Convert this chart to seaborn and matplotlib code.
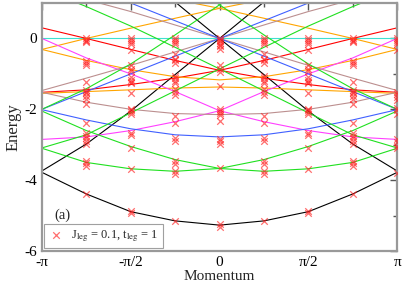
import numpy as np
import pandas as pd
import matplotlib
matplotlib.use("Agg")
import matplotlib.pyplot as plt
import seaborn as sns

# momentum grid (multiples of pi/4)
k_vals = [-np.pi, -0.75*np.pi, -0.5*np.pi, -0.25*np.pi, 0.0, 0.25*np.pi, 0.5*np.pi, 0.75*np.pi, np.pi]

# line energies read at the nine momenta
cyan_flat   = [0, 0, 0, 0, 0, 0, 0, 0, 0]
black_low   = [-3.78, -4.39, -4.89, -5.15, -5.27, -5.15, -4.89, -4.39, -3.78]
black_up    = [-3.74, -2.98, -2.05, -1.02, 0.0, 1.03, 2.0, 2.9, 3.7]
black_dn    = [3.7, 2.9, 2.0, 1.03, 0.0, -1.02, -2.05, -2.98, -3.74]
red_dn      = [0.30, 0.0, -0.31, -0.62, -0.9, -1.12, -1.3, -1.45, -1.52]
red_up      = [-1.52, -1.45, -1.3, -1.12, -0.9, -0.62, -0.31, 0.0, 0.30]
orange_up   = [-0.31, 0.0, 0.29, 0.57, 0.85, 1.1, 1.35, 1.55, 1.7]
orange_dn   = [1.7, 1.55, 1.35, 1.1, 0.85, 0.57, 0.29, 0.0, -0.31]
orange_u    = [-0.31, -0.62, -0.88, -1.08, -1.17, -1.08, -0.88, -0.62, -0.31]
orange_flat = [-1.55, -1.5, -1.45, -1.4, -1.37, -1.4, -1.45, -1.5, -1.55]
magenta_dn  = [0.0, -0.55, -1.0, -1.5, -2.04, -2.35, -2.6, -2.78, -2.85]
magenta_up  = [-2.85, -2.78, -2.6, -2.35, -2.04, -1.5, -1.0, -0.55, 0.0]
brown_up    = [-1.47, -1.12, -0.76, -0.38, 0.0, 0.38, 0.76, 1.1, 1.45]
brown_dn    = [1.45, 1.1, 0.76, 0.38, 0.0, -0.38, -0.76, -1.12, -1.47]
brown_u     = [-1.52, -1.8, -2.0, -2.12, -2.15, -2.12, -2.0, -1.8, -1.52]
blue_u      = [-2.01, -2.3, -2.55, -2.72, -2.78, -2.72, -2.55, -2.3, -2.01]
blue_up     = [-2.0, -1.5, -1.0, -0.5, 0.0, 0.5, 1.0, 1.5, 2.0]
blue_dn     = [2.0, 1.5, 1.0, 0.5, 0.0, -0.5, -1.0, -1.5, -2.0]
green_a_up  = [-2.0, -1.42, -0.72, 0.1, 0.95, 1.8, 2.6, 3.3, 3.9]
green_a_dn  = [3.9, 3.3, 2.6, 1.8, 0.95, 0.1, -0.72, -1.42, -2.0]
green_b_dn  = [-2.05, -2.6, -3.05, -3.42, -3.67, -3.75, -3.68, -3.5, -3.1]
green_b_up  = [-3.1, -3.5, -3.68, -3.75, -3.67, -3.42, -3.05, -2.6, -2.05]
green_c_up  = [-3.09, -2.72, -2.1, -1.48, -0.86, -0.25, 0.35, 0.9, 1.4]
green_c_dn  = [1.4, 0.9, 0.35, -0.25, -0.86, -1.48, -2.1, -2.72, -3.09]

# numerical levels (crosses) per momentum column
cross_m3q = [0.0, -0.03, -0.06, -0.1, -0.65, -0.7, -0.75, -1.24, -1.45, -1.5, -1.55, -1.62, -1.7, -1.85,
             -2.4, -2.68, -2.75, -2.8, -2.9, -2.97, -3.45, -3.52, -3.6, -4.39]
cross_m2q = [0.0, -0.05, -0.1, -0.15, -0.34, -0.76, -0.85, -0.92, -1.1, -1.17, -1.22, -1.27, -1.53,
             -1.98, -2.03, -2.07, -2.12, -2.66, -2.72, -3.1, -3.68, -4.87, -4.93]
cross_m1q = [0.0, -0.05, -0.1, -0.15, -0.43, -0.57, -0.62, -0.68, -1.05, -1.12, -1.2, -1.27, -1.42, -1.5,
             -1.6, -2.18, -2.38, -2.8, -2.9, -3.45, -3.55, -3.74, -3.83, -5.15]
cross_0   = [0.02, -0.03, -0.08, -0.13, -0.18, -0.22, -0.3, -0.76, -0.86, -0.96, -1.33, -1.98, -2.04, -2.1,
             -2.17, -2.32, -2.83, -2.9, -2.97, -3.65, -5.24, -5.33]
cross_p1q = [0.0, -0.05, -0.1, -0.15, -0.43, -0.57, -0.62, -0.68, -1.05, -1.12, -1.2, -1.27, -1.42, -1.5,
             -1.6, -2.18, -2.38, -2.8, -2.9, -3.45, -3.55, -3.74, -3.83, -5.15]
cross_p2q = [0.0, -0.05, -0.1, -0.15, -0.34, -0.76, -0.85, -0.92, -1.1, -1.17, -1.22, -1.27, -1.53,
             -1.98, -2.03, -2.07, -2.12, -2.66, -2.72, -3.1, -3.68, -4.87, -4.93]
cross_p3q = [0.0, -0.03, -0.06, -0.1, -0.65, -0.7, -0.75, -1.24, -1.45, -1.5, -1.55, -1.62, -1.7, -1.85,
             -2.4, -2.68, -2.75, -2.8, -2.9, -2.97, -3.45, -3.52, -3.6, -4.39]
cross_p4q = [0.0, -0.05, -0.1, -0.15, -0.34, -1.5, -1.58, -1.65, -1.75, -1.95, -2.03, -2.12,
             -2.85, -2.93, -3.03, -3.1, -3.8]

CYAN, BLACK, RED, ORANGE = "#40e0d0", "#000000", "#ff0000", "#ffa500"
MAGENTA, BROWN, BLUE, GREEN = "#ff40ff", "#bc8f8f", "#4060ff", "#20e020"

curves = [
    ("cyan_flat", cyan_flat, CYAN), ("black_low", black_low, BLACK), ("black_up", black_up, BLACK),
    ("black_dn", black_dn, BLACK), ("red_dn", red_dn, RED), ("red_up", red_up, RED),
    ("orange_up", orange_up, ORANGE), ("orange_dn", orange_dn, ORANGE), ("orange_u", orange_u, ORANGE),
    ("orange_flat", orange_flat, ORANGE), ("magenta_dn", magenta_dn, MAGENTA), ("magenta_up", magenta_up, MAGENTA),
    ("brown_up", brown_up, BROWN), ("brown_dn", brown_dn, BROWN), ("brown_u", brown_u, BROWN),
    ("blue_u", blue_u, BLUE), ("blue_up", blue_up, BLUE), ("blue_dn", blue_dn, BLUE),
    ("green_a_up", green_a_up, GREEN), ("green_a_dn", green_a_dn, GREEN), ("green_b_dn", green_b_dn, GREEN),
    ("green_b_up", green_b_up, GREEN), ("green_c_up", green_c_up, GREEN), ("green_c_dn", green_c_dn, GREEN),
]
rows = []
for name, vals, col in curves:
    for k, e in zip(k_vals, vals):
        rows.append({"k": k, "E": e, "curve": name})
df_lines = pd.DataFrame(rows)
palette = {name: col for name, _, col in curves}

cross_cols = [cross_m3q, cross_m2q, cross_m1q, cross_0, cross_p1q, cross_p2q, cross_p3q, cross_p4q]
crow = []
for k, lev in zip(k_vals[1:], cross_cols):
    for e in lev:
        crow.append({"k": k, "E": e})
df_cross = pd.DataFrame(crow)

sns.set_theme(style="white")
plt.rcParams["font.family"] = ["Liberation Serif", "DejaVu Serif"]
plt.rcParams["mathtext.fontset"] = "stix"

fig = plt.figure(figsize=(4.15, 2.86), dpi=100)
ax = fig.add_axes([0.101, 0.1224, 0.856, 0.867])

sns.lineplot(data=df_lines, x="k", y="E", hue="curve", palette=palette, units="curve",
             estimator=None, sort=False, legend=False, linewidth=0.8, ax=ax)
sns.scatterplot(data=df_cross, x="k", y="E", marker="x", color="#ff2020", s=22,
                linewidth=0.9, alpha=0.65, ax=ax, label=r"J$_{\rm leg}$ = 0.1, t$_{\rm leg}$ = 1",
                zorder=5)

ax.set_xlim(-np.pi, np.pi)
ax.set_ylim(-6, 1)
ax.set_xticks([-np.pi, -np.pi/2, 0, np.pi/2, np.pi])
ax.set_xticklabels(["-π", "-π/2", "0", "π/2", "π"])
ax.set_xticks([-0.75*np.pi, -0.25*np.pi, 0.25*np.pi, 0.75*np.pi], minor=True)
ax.set_yticks([0, -2, -4, -6])
ax.set_yticklabels(["0", "-2", "-4", "-6"])
ax.set_yticks([-1, -3, -5], minor=True)
ax.tick_params(which="both", direction="in", top=True, right=True, colors="#555555",
               labelcolor="black", labelsize=11)
ax.tick_params(which="major", length=5, width=1)
ax.tick_params(which="minor", length=3, width=1)
for s in ax.spines.values():
    s.set_color("#999999")
    s.set_linewidth(1.6)
ax.set_xlabel("Momentum", fontsize=11, labelpad=1)
ax.set_ylabel("Energy", fontsize=12, labelpad=2)
ax.text(-2.93, -5.0, "(a)", fontsize=10.5, va="center")
leg = ax.legend(loc="lower left", fontsize=9, frameon=True, fancybox=False, handletextpad=0.6,
                handlelength=1.2, borderpad=0.35, borderaxespad=0.2, markerscale=1.0)
leg.get_frame().set_edgecolor("#888888")
leg.get_frame().set_linewidth(0.8)
fig.savefig("out.png", dpi=100)
